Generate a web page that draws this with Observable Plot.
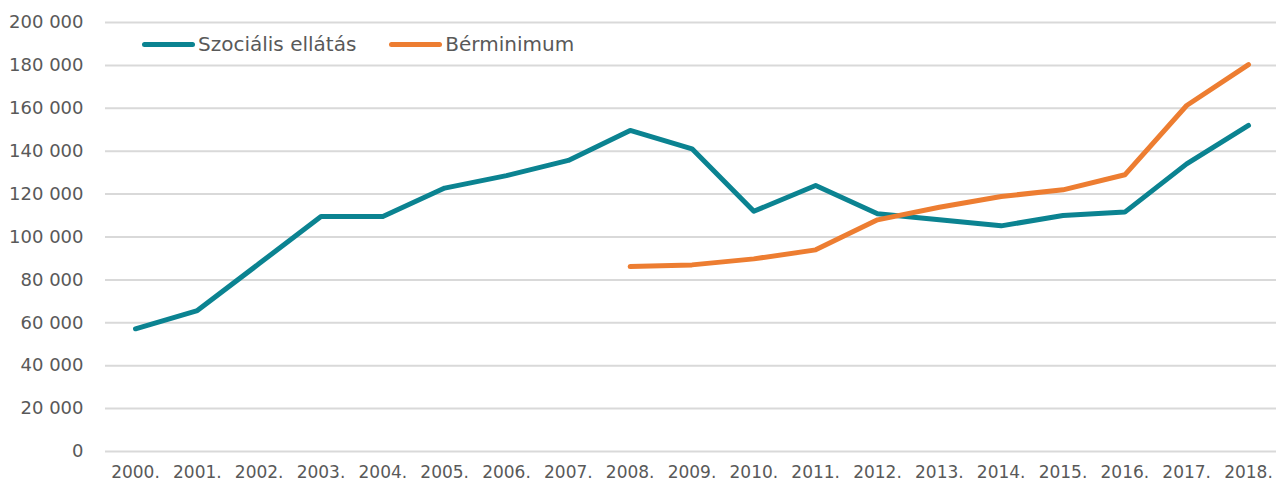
<!DOCTYPE html>
<html>
<head>
<meta charset="utf-8">
<script src="https://cdn.jsdelivr.net/npm/d3@7"></script>
<script src="https://cdn.jsdelivr.net/npm/@observablehq/plot@0.6"></script>
<style>
  html, body { margin: 0; padding: 0; background: #fff; overflow: hidden; }
  #wrap { position: relative; width: 1276px; height: 488px; font-family: "DejaVu Sans", sans-serif; }
  .legend { position: absolute; top: 32px; left: 142px; display: flex; align-items: center; font-size: 20px; color: #595959; }
  .legend .item { display: flex; align-items: center; margin-right: 33px; }
  .legend .sw { width: 53px; height: 5px; border-radius: 3px; margin-right: 3px; }
</style>
</head>
<body>
<div id="wrap"></div>
<script>
const years = ["2000.","2001.","2002.","2003.","2004.","2005.","2006.","2007.","2008.","2009.","2010.","2011.","2012.","2013.","2014.","2015.","2016.","2017.","2018."];
const seriesNames = ["Szociális ellátás", "Bérminimum"];
const seriesColors = ["#0B8391", "#ED7D31"];
const szocialis = [57200, 65700, 87600, 109600, 109600, 122800, 128600, 135700, 149700, 141100, 112000, 124000, 110800, 108000, 105200, 110000, 111600, 134100, 152000];
const berminimum = [null, null, null, null, null, null, null, null, 86200, 87000, 89800, 94000, 108000, 113900, 118900, 122000, 129000, 161300, 180400];
const yTicks = [0, 20000, 40000, 60000, 80000, 100000, 120000, 140000, 160000, 180000, 200000];

const data = [];
years.forEach((y, i) => {
  data.push({year: y, value: szocialis[i], series: seriesNames[0]});
  if (berminimum[i] != null) data.push({year: y, value: berminimum[i], series: seriesNames[1]});
});

const fmt = d3.formatLocale({decimal: ",", thousands: " ", grouping: [3], currency: ["", ""]}).format(",d");

const chart = Plot.plot({
  width: 1276,
  height: 488,
  marginTop: 22,
  marginBottom: 37,
  marginLeft: 105,
  marginRight: 0,
  style: {fontFamily: "DejaVu Sans, sans-serif", fontSize: "17px", color: "#595959", background: "#fff"},
  x: {type: "point", domain: years, range: [135, 1248], padding: 0, round: false, label: null},
  y: {domain: [0, 200000], ticks: yTicks, label: null, tickFormat: fmt},
  color: {domain: seriesNames, range: seriesColors},
  marks: [
    Plot.ruleY(yTicks, {stroke: "#D9D9D9", strokeWidth: 2}),
    Plot.axisY({ticks: yTicks, tickSize: 0, tickPadding: 22, tickFormat: fmt, fontSize: 18, label: null}),
    Plot.axisX({tickSize: 0, tickPadding: 14, fontSize: 17, label: null}),
    Plot.line(data, {x: "year", y: "value", z: "series", stroke: "series", strokeWidth: 5, strokeLinecap: "round", strokeLinejoin: "round"})
  ]
});

const wrap = document.getElementById("wrap");
wrap.appendChild(chart);
const legend = document.createElement("div");
legend.className = "legend";
seriesNames.forEach((n, i) => {
  const it = document.createElement("div");
  it.className = "item";
  const sw = document.createElement("span");
  sw.className = "sw";
  sw.style.background = seriesColors[i];
  const t = document.createElement("span");
  t.textContent = n;
  it.appendChild(sw); it.appendChild(t);
  legend.appendChild(it);
});
wrap.appendChild(legend);
</script>
</body>
</html>
